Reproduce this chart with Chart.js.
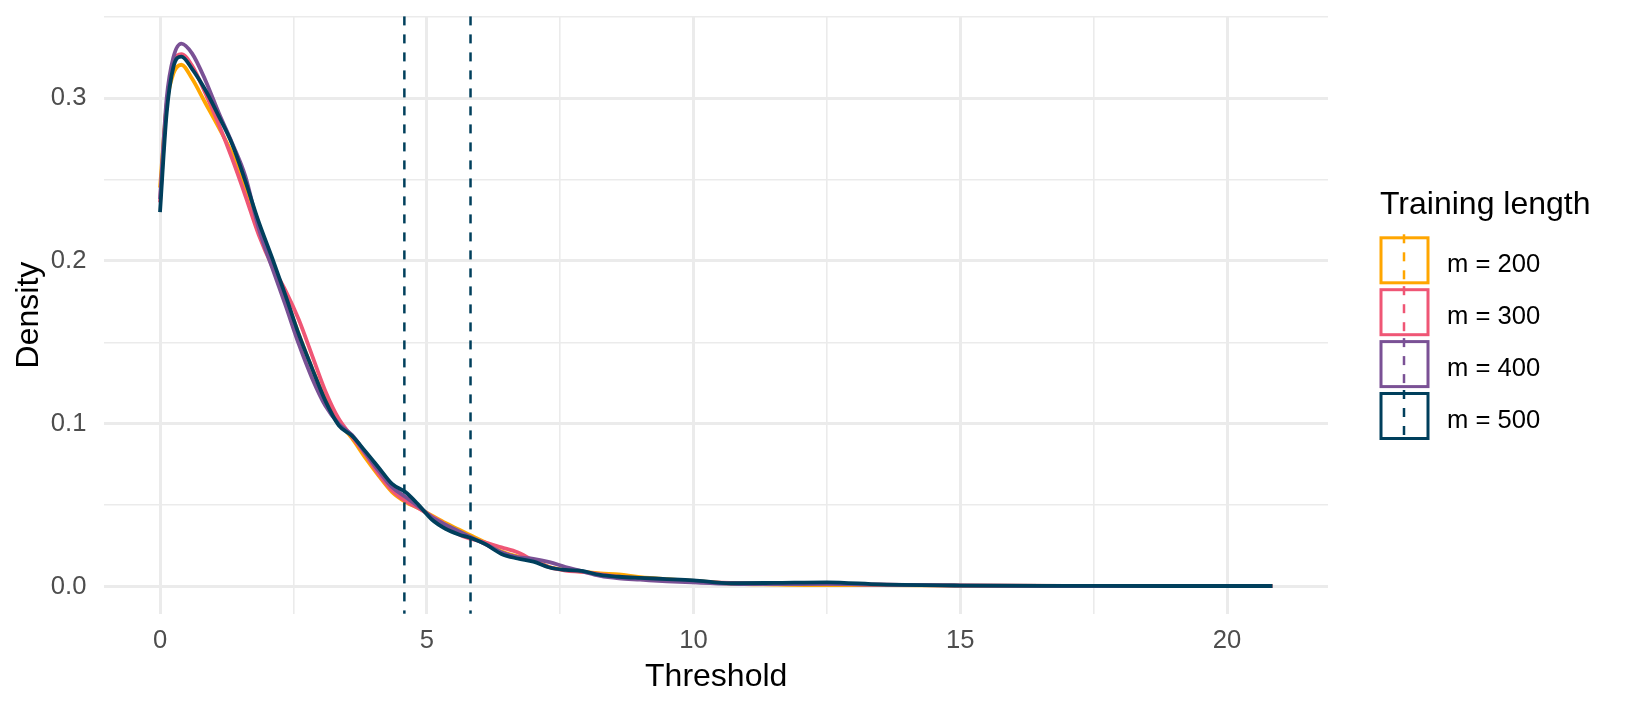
<!DOCTYPE html>
<html>
<head>
<meta charset="utf-8">
<script src="https://cdn.jsdelivr.net/npm/chart.js@4.4.0/dist/chart.umd.min.js"></script>
<style>
  html, body { margin: 0; padding: 0; background: #fff; }
</style>
</head>
<body>
<canvas id="densityChart" width="1627" height="708"></canvas>
<script>
// Threshold values shared by the four density curves
const thresholdX = [0, 0.125, 0.25, 0.4, 0.6, 0.85, 1.1, 1.35, 1.6, 1.85, 2.1, 2.35, 2.6, 2.85, 3.1, 3.35, 3.6, 3.85,
  4.1, 4.35, 4.6, 4.85, 5.1, 5.35, 5.6, 5.85, 6.1, 6.4, 6.7, 7.0, 7.3, 7.6, 7.9, 8.25, 8.6, 9.0, 9.5, 10,
  10.7, 11.5, 12.5, 13.5, 15, 17, 19, 20.85];

// Density per training length
const m200 = [0.245, 0.296, 0.315, 0.3205, 0.312, 0.297, 0.282, 0.266, 0.245, 0.222, 0.2, 0.178, 0.155, 0.134, 0.115, 0.101, 0.091, 0.079,
  0.068, 0.058, 0.052, 0.048, 0.0435, 0.039, 0.035, 0.031, 0.027, 0.0215, 0.0185, 0.016, 0.012, 0.0102, 0.0092, 0.008, 0.0075, 0.0058, 0.0045, 0.0035,
  0.0018, 0.0012, 0.0008, 0.0009, 0.0006, 0.0004, 0.0003, 0.0003];
const m300 = [0.236, 0.296, 0.321, 0.327, 0.32, 0.303, 0.284, 0.263, 0.24, 0.216, 0.197, 0.182, 0.164, 0.142, 0.12, 0.103, 0.092, 0.081,
  0.069, 0.059, 0.0525, 0.048, 0.043, 0.038, 0.032, 0.029, 0.027, 0.024, 0.021, 0.016, 0.0118, 0.0098, 0.009, 0.0075, 0.006, 0.0048, 0.004, 0.003,
  0.0022, 0.0018, 0.0017, 0.0011, 0.0006, 0.0004, 0.0003, 0.0002];
const m400 = [0.238, 0.3, 0.325, 0.3335, 0.3275, 0.311, 0.291, 0.2725, 0.252, 0.22, 0.196, 0.173, 0.149, 0.128, 0.111, 0.1, 0.093, 0.082,
  0.071, 0.061, 0.055, 0.049, 0.0425, 0.038, 0.034, 0.03, 0.026, 0.021, 0.018, 0.017, 0.015, 0.012, 0.0095, 0.0065, 0.005, 0.0042, 0.0032, 0.0025,
  0.0017, 0.0015, 0.0016, 0.0012, 0.0007, 0.0003, 0.0002, 0.0002];
const m500 = [0.23, 0.291, 0.319, 0.3255, 0.318, 0.305, 0.289, 0.272, 0.249, 0.224, 0.202, 0.179, 0.155, 0.134, 0.114, 0.099, 0.0925, 0.083,
  0.073, 0.063, 0.058, 0.05, 0.041, 0.0355, 0.032, 0.0295, 0.026, 0.02, 0.0172, 0.0153, 0.0117, 0.0102, 0.0096, 0.0071, 0.006, 0.0053, 0.0046, 0.0038,
  0.002, 0.0022, 0.0026, 0.0013, 0.0006, 0.0004, 0.0003, 0.0003];

const seriesLabels = ["m = 200", "m = 300", "m = 400", "m = 500"];
const seriesColors = ["#FFA600", "#EF5675", "#7A5195", "#003F5C"];

// Dashed reference thresholds
const cutoffs = [4.58, 5.82];

const xTicks = [0, 2.5, 5, 7.5, 10, 12.5, 15, 17.5, 20];
const yTicks = [0, 0.05, 0.1, 0.15, 0.2, 0.25, 0.3, 0.35];

const isWhole = (v, step) => Math.abs(v / step - Math.round(v / step)) < 1e-9;

const seriesValues = [m200, m300, m400, m500];
const datasets = seriesValues.map((vals, i) => ({
  label: seriesLabels[i],
  data: thresholdX.map((x, j) => ({ x: x, y: vals[j] })),
  borderColor: seriesColors[i],
  borderWidth: 3.8,
  pointRadius: 0,
  cubicInterpolationMode: "monotone",
  fill: false,
  order: 4 - i, // m = 500 ends up on top
}));

// Draws the dashed cutoffs and the ggplot-style legend
const overlay = {
  id: "overlay",
  afterDatasetsDraw(chart) {
    const { ctx, chartArea, scales } = chart;
    ctx.save();
    ctx.strokeStyle = "#003F5C";
    ctx.lineWidth = 2.5;
    ctx.setLineDash([9, 9]);
    cutoffs.forEach((c) => {
      const px = scales.x.getPixelForValue(c);
      ctx.beginPath();
      ctx.moveTo(px, chartArea.top);
      ctx.lineTo(px, chartArea.bottom);
      ctx.stroke();
    });
    ctx.restore();
  },
  afterDraw(chart) {
    const ctx = chart.ctx;
    const lx = 1380;
    ctx.save();
    ctx.fillStyle = "#000";
    ctx.textBaseline = "alphabetic";
    ctx.textAlign = "left";
    ctx.font = "32px 'Liberation Sans'";
    ctx.fillText("Training length", lx, 214);

    seriesLabels.forEach((lab, i) => {
      const cy = 260.3 + i * 51.9;
      ctx.setLineDash([]);
      ctx.strokeStyle = seriesColors[i];
      ctx.lineWidth = 3;
      ctx.strokeRect(lx + 1, cy - 22.5, 47, 45);

      ctx.setLineDash([9, 9]);
      ctx.lineWidth = 2.5;
      ctx.beginPath();
      ctx.moveTo(lx + 24, cy - 26);
      ctx.lineTo(lx + 24, cy + 26);
      ctx.stroke();

      ctx.fillStyle = "#000";
      ctx.font = "25.6px 'Liberation Sans'";
      ctx.fillText(lab, lx + 67, cy + 12);
    });
    ctx.restore();
  },
};

const ctx = document.getElementById("densityChart").getContext("2d");
new Chart(ctx, {
  type: "line",
  data: { datasets: datasets },
  plugins: [overlay],
  options: {
    responsive: false,
    animation: false,
    events: [],
    layout: { padding: { top: 16.4, right: 299, left: 0, bottom: 0 } },
    plugins: {
      legend: { display: false },
      tooltip: { enabled: false },
    },
    scales: {
      x: {
        type: "linear",
        min: -1.0425,
        max: 21.8925,
        afterBuildTicks: (axis) => { axis.ticks = xTicks.map((v) => ({ value: v })); },
        afterFit: (axis) => {
          axis.height = 94.3;
          axis.paddingLeft = 0;
          axis.paddingRight = 0;
        },
        border: { display: false },
        grid: {
          color: "#EBEBEB",
          drawTicks: false,
          lineWidth: (c) => (c.tick && isWhole(c.tick.value, 5) ? 3 : 1.6),
        },
        ticks: {
          autoSkip: false,
          maxRotation: 0,
          padding: 12,
          color: "#4D4D4D",
          font: { family: "'Liberation Sans'", size: 25.6 },
          callback: (v) => (isWhole(v, 5) ? String(v) : ""),
        },
        title: {
          display: true,
          text: "Threshold",
          color: "#000",
          font: { family: "'Liberation Sans'", size: 32 },
          padding: { top: 0, bottom: 11.6 },
        },
      },
      y: {
        type: "linear",
        min: -0.0167,
        max: 0.3502,
        afterBuildTicks: (axis) => { axis.ticks = yTicks.map((v) => ({ value: v })); },
        afterFit: (axis) => {
          axis.width = 104.4;
          axis.paddingTop = 0;
          axis.paddingBottom = 0;
        },
        border: { display: false },
        grid: {
          color: "#EBEBEB",
          drawTicks: false,
          lineWidth: (c) => (c.tick && isWhole(c.tick.value, 0.1) ? 3 : 1.6),
        },
        ticks: {
          autoSkip: false,
          padding: 18,
          color: "#4D4D4D",
          font: { family: "'Liberation Sans'", size: 25.6 },
          callback: (v) => (isWhole(v, 0.1) ? v.toFixed(1) : ""),
        },
        title: {
          display: true,
          text: "Density",
          color: "#000",
          font: { family: "'Liberation Sans'", size: 32 },
          padding: { top: 10, bottom: 0 },
        },
      },
    },
  },
});
</script>
</body>
</html>
